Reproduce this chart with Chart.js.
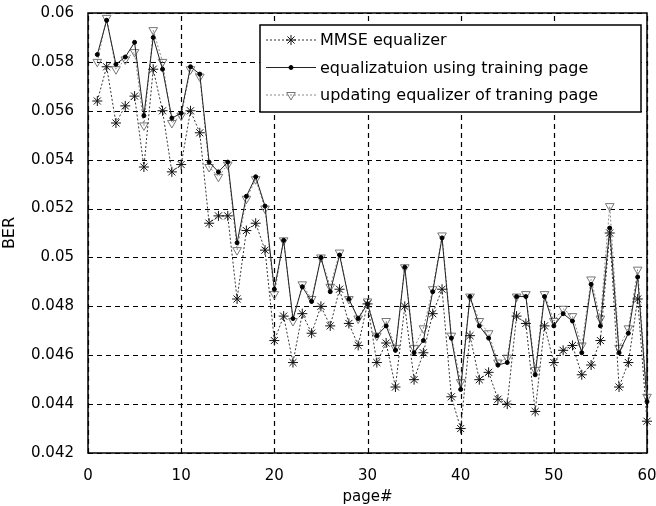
<!DOCTYPE html>
<html>
<head>
<meta charset="utf-8">
<script src="https://cdn.jsdelivr.net/npm/chart.js@4.4.1/dist/chart.umd.min.js"></script>
<style>
  html, body { margin: 0; padding: 0; background: #fff; }
  #wrap { width: 656px; height: 506px; }
</style>
</head>
<body>
<div id="wrap"><canvas id="ber-chart" width="656" height="506"></canvas></div>
<script>
// page numbers on the x axis
let pages = [1, 2, 3, 4, 5, 6, 7, 8, 9, 10, 11, 12, 13, 14, 15, 16, 17, 18, 19, 20,
  21, 22, 23, 24, 25, 26, 27, 28, 29, 30, 31, 32, 33, 34, 35, 36, 37, 38, 39, 40,
  41, 42, 43, 44, 45, 46, 47, 48, 49, 50, 51, 52, 53, 54, 55, 56, 57, 58, 59, 60];

// BER values
let mmseBer = [0.0564, 0.0578, 0.0555, 0.0562, 0.0566, 0.0537, 0.0577, 0.0560, 0.0535, 0.0538,
  0.0560, 0.0551, 0.0514, 0.0517, 0.0517, 0.0483, 0.0511, 0.0514, 0.0503, 0.0466,
  0.0476, 0.0457, 0.0477, 0.0469, 0.0480, 0.0472, 0.0487, 0.0473, 0.0464, 0.0481,
  0.0457, 0.0465, 0.0447, 0.0480, 0.0450, 0.0461, 0.0477, 0.0487, 0.0443, 0.0430,
  0.0468, 0.0450, 0.0453, 0.0442, 0.0440, 0.0476, 0.0473, 0.0437, 0.0472, 0.0457,
  0.0462, 0.0464, 0.0452, 0.0456, 0.0466, 0.0510, 0.0447, 0.0457, 0.0483, 0.0433];

let trainingBer = [0.0583, 0.0597, 0.0579, 0.0582, 0.0588, 0.0558, 0.0590, 0.0577, 0.0557, 0.0559,
  0.0578, 0.0575, 0.0539, 0.0535, 0.0539, 0.0506, 0.0525, 0.0533, 0.0521, 0.0487,
  0.0507, 0.0475, 0.0488, 0.0482, 0.0500, 0.0486, 0.0501, 0.0483, 0.0475, 0.0481,
  0.0468, 0.0472, 0.0462, 0.0496, 0.0461, 0.0466, 0.0486, 0.0508, 0.0467, 0.0446,
  0.0484, 0.0472, 0.0467, 0.0456, 0.0457, 0.0484, 0.0484, 0.0452, 0.0484, 0.0472,
  0.0477, 0.0474, 0.0461, 0.0489, 0.0472, 0.0512, 0.0461, 0.0469, 0.0492, 0.0441];

let updatingBer = [0.0580, 0.0598, 0.0577, 0.0581, 0.0584, 0.0554, 0.0593, 0.0580, 0.0555, 0.0558,
  0.0577, 0.0574, 0.0537, 0.0533, 0.0538, 0.0503, 0.0524, 0.0532, 0.0520, 0.0485,
  0.0507, 0.0474, 0.0489, 0.0483, 0.0500, 0.0488, 0.0502, 0.0483, 0.0475, 0.0482,
  0.0468, 0.0474, 0.0463, 0.0496, 0.0463, 0.0471, 0.0487, 0.0509, 0.0468, 0.0449,
  0.0484, 0.0474, 0.0469, 0.0457, 0.0459, 0.0484, 0.0485, 0.0454, 0.0485, 0.0474,
  0.0479, 0.0476, 0.0464, 0.0491, 0.0475, 0.0521, 0.0463, 0.0471, 0.0495, 0.0443];

let seriesNames = [
  "MMSE equalizer",
  "equalizatuion using training page",
  "updating equalizer of traning page"
];

// tick labels
let xTicks = [0, 10, 20, 30, 40, 50, 60];
let yTicks = [0.042, 0.044, 0.046, 0.048, 0.05, 0.052, 0.054, 0.056, 0.058, 0.06];

// the scan's lettering is wide, DejaVu Sans is the closest
let font = "'DejaVu Sans', sans-serif";

// turn a value list into {x, y} points
function toPoints(values) {
  return values.map(function (v, i) {
    return { x: pages[i], y: v };
  });
}

// dashed grid and the black box round the plot (matlab look)
let boxGrid = {
  id: "boxGrid",
  beforeDatasetsDraw: function (chart) {
    let ctx = chart.ctx;
    let area = chart.chartArea;
    let xs = chart.scales.x;
    let ys = chart.scales.y;
    ctx.save();
    ctx.strokeStyle = "#000";
    ctx.lineWidth = 1.2;
    ctx.setLineDash([5, 4]);
    xTicks.forEach(function (v) {
      let px = Math.round(xs.getPixelForValue(v)) + 0.5;
      ctx.beginPath();
      ctx.moveTo(px, area.bottom);
      ctx.lineTo(px, area.top);
      ctx.stroke();
    });
    yTicks.forEach(function (v) {
      let py = Math.round(ys.getPixelForValue(v)) + 0.5;
      ctx.beginPath();
      ctx.moveTo(area.left, py);
      ctx.lineTo(area.right, py);
      ctx.stroke();
    });
    ctx.setLineDash([]);
    ctx.lineWidth = 1.5;
    ctx.strokeRect(area.left, area.top, area.right - area.left, area.bottom - area.top);
    ctx.restore();
  }
};

// legend box drawn inside the plot, like the matlab one
let boxLegend = {
  id: "boxLegend",
  afterDraw: function (chart) {
    let ctx = chart.ctx;
    let left = 260, top = 25, right = 641, bottom = 112;
    ctx.save();
    ctx.fillStyle = "#fff";
    ctx.fillRect(left, top, right - left, bottom - top);
    ctx.strokeStyle = "#000";
    ctx.lineWidth = 1.5;
    ctx.strokeRect(left, top, right - left, bottom - top);

    ctx.font = "16px " + font;
    ctx.textBaseline = "middle";
    chart.data.datasets.forEach(function (ds, i) {
      let y = 40 + i * 27.5;
      ctx.strokeStyle = ds.borderColor;
      ctx.lineWidth = ds.borderWidth;
      ctx.setLineDash(ds.borderDash || []);
      ctx.beginPath();
      ctx.moveTo(266, y);
      ctx.lineTo(316, y);
      ctx.stroke();
      ctx.setLineDash([]);
      ctx.strokeStyle = ds.pointBorderColor;
      ctx.fillStyle = ds.pointBackgroundColor;
      ctx.lineWidth = 1;
      Chart.helpers.drawPoint(ctx, {
        pointStyle: ds.pointStyle,
        rotation: ds.pointRotation || 0,
        radius: ds.pointRadius,
        borderWidth: 1
      }, 291, y);
      ctx.fillStyle = "#000";
      ctx.fillText(seriesNames[i], 320, y + 1);
    });
    ctx.restore();
  }
};

let context = document.querySelector("#ber-chart").getContext("2d");

let berChart = new Chart(context, {
  type: "line",
  data: {
    datasets: [
      {
        label: seriesNames[0],
        data: toPoints(mmseBer),
        borderColor: "#333",
        borderWidth: 1,
        borderDash: [2, 2],
        pointStyle: "star",
        pointRadius: 5,
        pointBorderColor: "#111",
        pointBackgroundColor: "#111",
        pointBorderWidth: 1,
        clip: false
      },
      {
        label: seriesNames[1],
        data: toPoints(trainingBer),
        borderColor: "#222",
        borderWidth: 1,
        pointStyle: "circle",
        pointRadius: 2,
        pointBorderColor: "#000",
        pointBackgroundColor: "#000",
        pointBorderWidth: 1,
        clip: false
      },
      {
        label: seriesNames[2],
        data: toPoints(updatingBer),
        borderColor: "#8a8a8a",
        borderWidth: 1,
        borderDash: [2, 2],
        pointStyle: "triangle",
        pointRotation: 180,
        pointRadius: 5,
        pointBorderColor: "#777",
        pointBackgroundColor: "rgba(255,255,255,0)",
        pointBorderWidth: 1,
        clip: false
      }
    ]
  },
  options: {
    responsive: false,
    animation: false,
    layout: { padding: { top: 13, right: 9, left: 0, bottom: 0 } },
    plugins: {
      legend: { display: false },
      tooltip: { enabled: false }
    },
    scales: {
      x: {
        type: "linear",
        min: 0,
        max: 60,
        afterBuildTicks: function (scale) {
          scale.ticks = xTicks.map(function (v) { return { value: v }; });
        },
        afterFit: function (scale) {
          scale.height = 53;
          scale.paddingRight = 0;
        },
        border: { display: false },
        grid: { display: false },
        ticks: {
          color: "#000",
          padding: 6,
          maxRotation: 0,
          font: { family: font, size: 15 }
        },
        title: {
          display: true,
          text: "page#",
          color: "#000",
          padding: { top: 0, bottom: 0 },
          font: { family: font, size: 15 }
        }
      },
      y: {
        min: 0.042,
        max: 0.06,
        afterBuildTicks: function (scale) {
          scale.ticks = yTicks.map(function (v) { return { value: v }; });
        },
        afterFit: function (scale) {
          scale.width = 88;
          scale.paddingTop = 0;
        },
        border: { display: false },
        grid: { display: false },
        ticks: {
          color: "#000",
          padding: 6,
          font: { family: font, size: 15 },
          callback: function (v) { return String(+v.toFixed(3)); }
        },
        title: {
          display: true,
          text: "BER",
          color: "#000",
          padding: { top: 0, bottom: 4 },
          font: { family: font, size: 16 }
        }
      }
    }
  },
  plugins: [boxGrid, boxLegend]
});
</script>
</body>
</html>
